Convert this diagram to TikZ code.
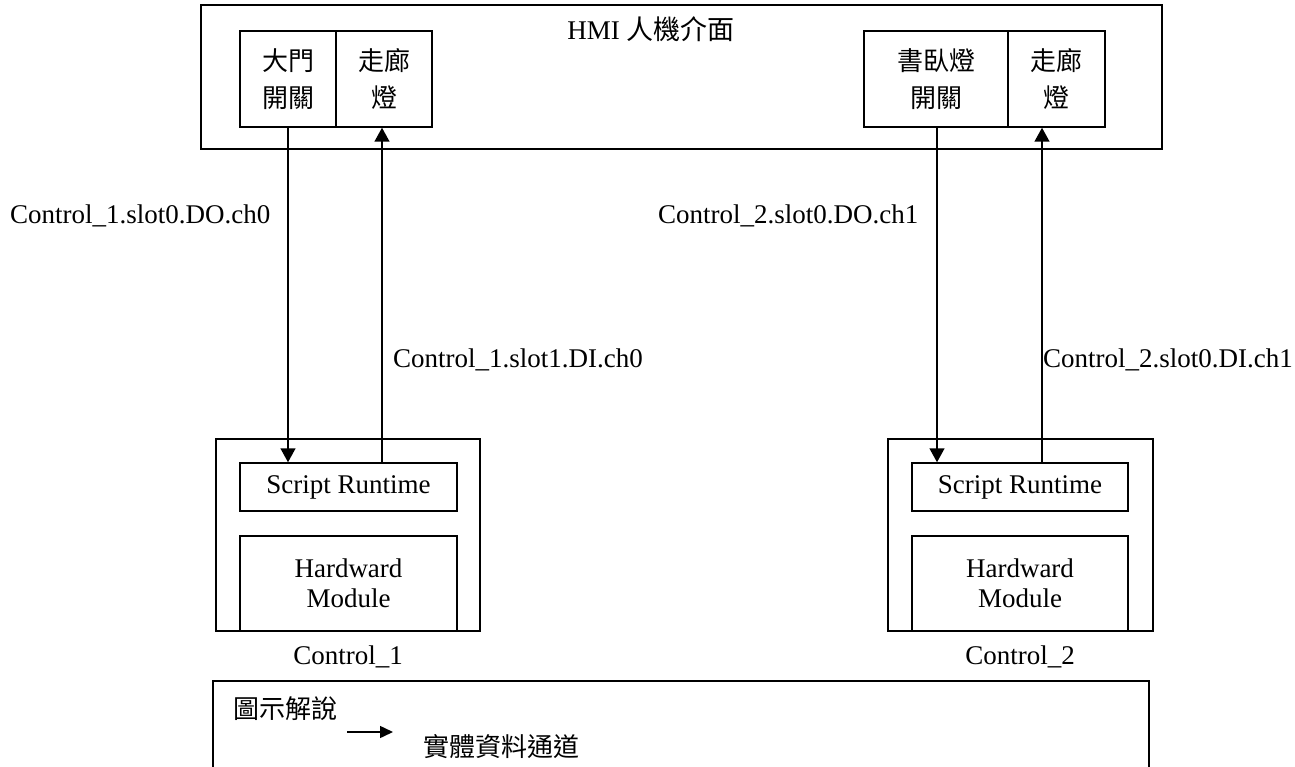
\documentclass[tikz,border=0pt]{standalone}
\usepackage{fontspec}
\setmainfont{Liberation Serif}
\newfontfamily\cjk{Noto Sans CJK TC}
\usetikzlibrary{arrows.meta}
\begin{document}
\begin{tikzpicture}[x=1pt,y=-1pt,
  box/.style={draw,line width=1.5pt,inner sep=0pt,align=center},
  lbl/.style={inner sep=0pt,font=\fontsize{27}{30}\selectfont},
  cj/.style={font=\cjk\fontsize{26}{37}\selectfont},
  lat/.style={font=\fontsize{27}{30}\selectfont},
  arr/.style={line width=1.5pt,-{Triangle[length=14pt,width=15pt]}}]
\useasboundingbox (0,0) rectangle (1295,767);
\clip (0,0) rectangle (1295,767);
% HMI
\node[box,minimum width=961pt,minimum height=144pt] (hmi) at (681.5,77) {};
\node[lbl,anchor=base] (hmit) at (651,40) {HMI {\cjk 人機介面}};
\node[box,cj,minimum width=96pt,minimum height=96pt] (door) at (288,79) {大門\\開關};
\node[box,cj,minimum width=96pt,minimum height=96pt] (lamp1) at (384,79) {走廊\\燈};
\node[box,cj,minimum width=144pt,minimum height=96pt] (bed) at (936,79) {書臥燈\\開關};
\node[box,cj,minimum width=97pt,minimum height=96pt] (lamp2) at (1056.5,79) {走廊\\燈};
% Controllers
\node[box,minimum width=264pt,minimum height=192pt] (ctl1) at (348,535) {};
\node[box,lat,minimum width=217pt,minimum height=48pt] (sr1) at (348.5,487) {Script Runtime};
\node[box,lat,minimum width=217pt,minimum height=95pt] (hw1) at (348.5,583.5) {Hardward\\Module};
\node[lbl,anchor=base] (c1) at (348,664) {Control\_1};
\node[box,minimum width=265pt,minimum height=192pt] (ctl2) at (1020.5,535) {};
\node[box,lat,minimum width=216pt,minimum height=48pt] (sr2) at (1020,487) {Script Runtime};
\node[box,lat,minimum width=216pt,minimum height=95pt] (hw2) at (1020,583.5) {Hardward\\Module};
\node[lbl,anchor=base] (c2) at (1020,664) {Control\_2};
% connectors
\draw[arr] (door.south) -- (door.south |- sr1.north);
\draw[arr] ([xshift=-2pt]lamp1.south |- sr1.north) -- ([xshift=-2pt]lamp1.south);
\draw[arr] ([xshift=1pt]bed.south) -- ([xshift=1pt]bed.south |- sr2.north);
\draw[arr] ([xshift=-14.5pt]lamp2.south |- sr2.north) -- ([xshift=-14.5pt]lamp2.south);
% labels
\node[lbl,anchor=base west] (l1) at (10,224) {Control\_1.slot0.DO.ch0};
\node[lbl,anchor=base west] (l2) at (393,367) {Control\_1.slot1.DI.ch0};
\node[lbl,anchor=base west] (l3) at (658,224) {Control\_2.slot0.DO.ch1};
\node[lbl,anchor=base west] (l4) at (1043,367) {Control\_2.slot0.DI.ch1};
% legend
\node[box,minimum width=936pt,minimum height=119pt] (leg) at (681,740.5) {};
\node[cj,inner sep=0pt,anchor=west] (legt) at (233,709) {圖示解說};
\coordinate (la) at (347,732);
\coordinate (lb) at (393,732);
\draw[line width=1.5pt,-{Triangle[length=13pt,width=12pt]}] (la) -- (lb);
\node[cj,inner sep=0pt,anchor=west] (legd) at (423,747) {實體資料通道};
\end{tikzpicture}
\end{document}
